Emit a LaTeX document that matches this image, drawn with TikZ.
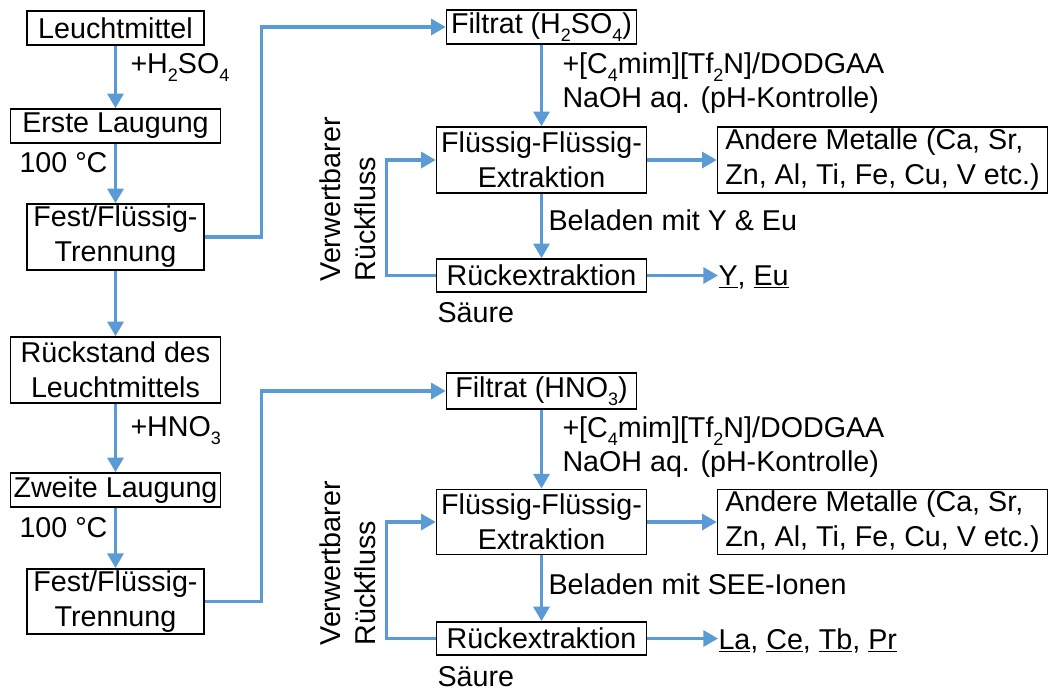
\documentclass[tikz,border=0pt]{standalone}
\usepackage{fontspec}
\setmainfont{Liberation Sans}
\usetikzlibrary{arrows.meta}
\definecolor{flowblue}{RGB}{91,155,213}
\newcommand{\diagfont}{\fontsize{21.5}{26.3}\selectfont}
\newcommand{\chsub}[1]{\raisebox{-0.3em}{\fontsize{13.5}{14}\selectfont #1}}
\tikzset{every picture/.style={line width=0.75pt}}
\tikzset{
  box/.style 2 args={draw, line width=1.2pt, inner sep=0pt, align=center, font=\diagfont, minimum width=#1, minimum height=#2},
  lbl/.style={anchor=base west, inner sep=0pt, font=\diagfont},
  flow/.style={draw=flowblue, line width=2.5pt, -{Triangle[length=11pt,width=12pt]}}
}

\begin{document}
\begin{tikzpicture}[x=0.75pt,y=0.75pt,yscale=-1,xscale=1]
\useasboundingbox (0,0) rectangle (1049,690);

%Shape: Rectangle (left column)
\node [box={132.75pt}{25.5pt}] (leucht) at (115.5,28) {Leuchtmittel};
\node [box={157.5pt}{25.5pt}] (laug1) at (115.5,126) {Erste Laugung};
\node [box={132.75pt}{49.5pt}] (fest1) at (115.5,237) {Fest/Flüssig-\\Trennung};
\node [box={157.5pt}{49.5pt}] (rest) at (115.5,370) {Rückstand des\\Leuchtmittels};
\node [box={157.5pt}{25.5pt}] (laug2) at (115.5,490) {Zweite Laugung};
\node [box={132.75pt}{49pt}] (fest2) at (115.5,601.5) {Fest/Flüssig-\\Trennung};

%Shape: Rectangle (upper right)
\node [box={142.5pt}{25.5pt}] (filt1) at (541.5,27) {Filtrat (H\chsub{2}SO\chsub{4})};
\node [box={157.5pt}{49.5pt}] (ffe1) at (541.5,160) {Flüssig-Flüssig-\\Extraktion};
\node [box={247.5pt}{49.5pt}, align=left] (other1) at (882.5,160) {Andere Metalle (Ca, Sr,\\Zn, Al, Ti, Fe, Cu, V etc.)};
\node [box={157.5pt}{24.75pt}] (back1) at (541.5,275.5) {Rückextraktion};

%Shape: Rectangle (lower right)
\node [box={142.5pt}{27pt}] (filt2) at (541.5,391) {Filtrat (HNO\chsub{3})};
\node [box={157.5pt}{49pt}] (ffe2) at (541.5,522) {Flüssig-Flüssig-\\Extraktion};
\node [box={247.5pt}{49pt}, align=left] (other2) at (882.5,522) {Andere Metalle (Ca, Sr,\\Zn, Al, Ti, Fe, Cu, V etc.)};
\node [box={157.5pt}{24.75pt}] (back2) at (541.5,638.5) {Rückextraktion};

% Text Node
\node [lbl] (acid1) at (130,73) {+H\chsub{2}SO\chsub{4}};
\node [lbl] (heat1) at (19,172) {100 °C};
\node [lbl] (acid2) at (130,436) {+HNO\chsub{3}};
\node [lbl] (heat2) at (19,537) {100 °C};
\node [lbl] (ionic1) at (562,73) {+[C\chsub{4}mim][Tf\chsub{2}N]/DODGAA};
\node [lbl] (naoh1) at (562,107) {NaOH aq. (pH-Kontrolle)};
\node [lbl] (load1) at (548,230) {Beladen mit Y \& Eu};
\node [lbl] (strip1) at (437,322) {Säure};
\node [lbl] (prod1) at (718,285) {\underline{Y}, \underline{Eu}};
\node [lbl] (ionic2) at (562,437) {+[C\chsub{4}mim][Tf\chsub{2}N]/DODGAA};
\node [lbl] (naoh2) at (562,471) {NaOH aq. (pH-Kontrolle)};
\node [lbl] (load2) at (548,594) {Beladen mit SEE-Ionen};
\node [lbl] (strip2) at (437,686) {Säure};
\node [lbl] (prod2) at (718,649) {\underline{La}, \underline{Ce}, \underline{Tb}, \underline{Pr}};
\node [rotate=90, anchor=south west, inner sep=0pt, align=left, font=\diagfont] (reflux1) at (376,282) {Verwertbarer\\Rückfluss};
\node [rotate=90, anchor=south west, inner sep=0pt, align=left, font=\diagfont] (reflux2) at (376,646) {Verwertbarer\\Rückfluss};

%Straight Lines (left column)
\draw [flow] (leucht) -- (laug1);
\draw [flow] (laug1) -- (fest1);
\draw [flow] (fest1) -- (rest);
\draw [flow] (rest) -- (laug2);
\draw [flow] (laug2) -- (fest2);
\draw [flow] (fest1.east) -- ++(57,0) |- (filt1.west);
\draw [flow] (fest2.east) -- ++(57,0) |- (filt2.west);

%Straight Lines (extraction)
\draw [flow] (filt1) -- (ffe1);
\draw [flow] (ffe1) -- (back1);
\draw [flow] (ffe1) -- (other1);
\draw [flow] (back1.east) -- (prod1.west |- back1.east);
\draw [flow] (back1.west) -- ++(-49,0) |- (ffe1.west);
\draw [flow] (filt2) -- (ffe2);
\draw [flow] (ffe2) -- (back2);
\draw [flow] (ffe2) -- (other2);
\draw [flow] (back2.east) -- (prod2.west |- back2.east);
\draw [flow] (back2.west) -- ++(-49,0) |- (ffe2.west);
\end{tikzpicture}
\end{document}
